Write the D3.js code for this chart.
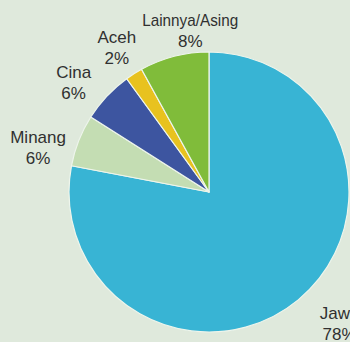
<!DOCTYPE html>
<html>
<head>
<meta charset="utf-8">
<script src="https://cdn.jsdelivr.net/npm/d3@7"></script>
<style>
  body { margin: 0; background: #dfe9dc; }
  svg { display: block; }
  .lbl { font-family: "Liberation Sans", Arial, sans-serif; font-size: 17px; fill: #303030; }
</style>
</head>
<body>
<svg id="chart"></svg>
<script>
// data (clockwise from 12 o'clock)
var names = ['Jawa', 'Minang', 'Cina', 'Aceh', 'Lainnya/Asing'];
var values = [78, 6, 6, 2, 8];
var colors = ['#38b4d4', '#c4ddb3', '#3d55a0', '#e8c21f', '#80bc3a'];

var width = 350;
var height = 342;
var cx = 209, cy = 192;
var radius = 140;
var labelRadius = 172;

// small label nudges so text sits where it does in the original
var nudge = {
  'Jawa': [21, -2],
  'Minang': [-11, 18],
  'Cina': [-10, 8],
  'Aceh': [0, 0],
  'Lainnya/Asing': [24, 5]
};

var svg = d3.select('#chart')
  .attr('width', width)
  .attr('height', height);

svg.append('rect')
  .attr('width', width)
  .attr('height', height)
  .attr('fill', '#dfe9dc');

var rows = names.map(function(n, i) { return { name: n, value: values[i] }; });

var color = d3.scaleOrdinal()
  .domain(names)
  .range(colors);

var pie = d3.pie()
  .sort(null)
  .value(d => d.value);

var arc = d3.arc()
  .innerRadius(0)
  .outerRadius(radius);

var labelArc = d3.arc()
  .innerRadius(labelRadius)
  .outerRadius(labelRadius);

var g = svg.append('g')
  .attr('transform', 'translate(' + cx + ',' + cy + ')');

var arcs = pie(rows);

g.selectAll('path')
  .data(arcs)
  .enter()
  .append('path')
    .attr('d', arc)
    .attr('fill', d => color(d.data.name))
    .attr('stroke', '#eef5ec')
    .attr('stroke-width', 1.2)
    .attr('stroke-linejoin', 'round');

var labels = g.selectAll('.lbl')
  .data(arcs)
  .enter()
  .append('text')
    .attr('class', 'lbl')
    .attr('text-anchor', 'middle')
    .attr('transform', function(d) {
      var c = labelArc.centroid(d);
      var n = nudge[d.data.name] || [0, 0];
      return 'translate(' + (c[0] + n[0]) + ',' + (c[1] + n[1]) + ')';
    });

labels.append('tspan')
  .attr('x', 0)
  .attr('y', -4)
  .text(d => d.data.name)
  // the long label is set tighter in the original
  .each(function(d) {
    if (d.data.name.length > 8) {
      d3.select(this)
        .attr('textLength', 96)
        .attr('lengthAdjust', 'spacingAndGlyphs');
    }
  });

labels.append('tspan')
  .attr('x', 0)
  .attr('y', 17)
  .text(d => d.data.value + '%');
</script>
</body>
</html>
